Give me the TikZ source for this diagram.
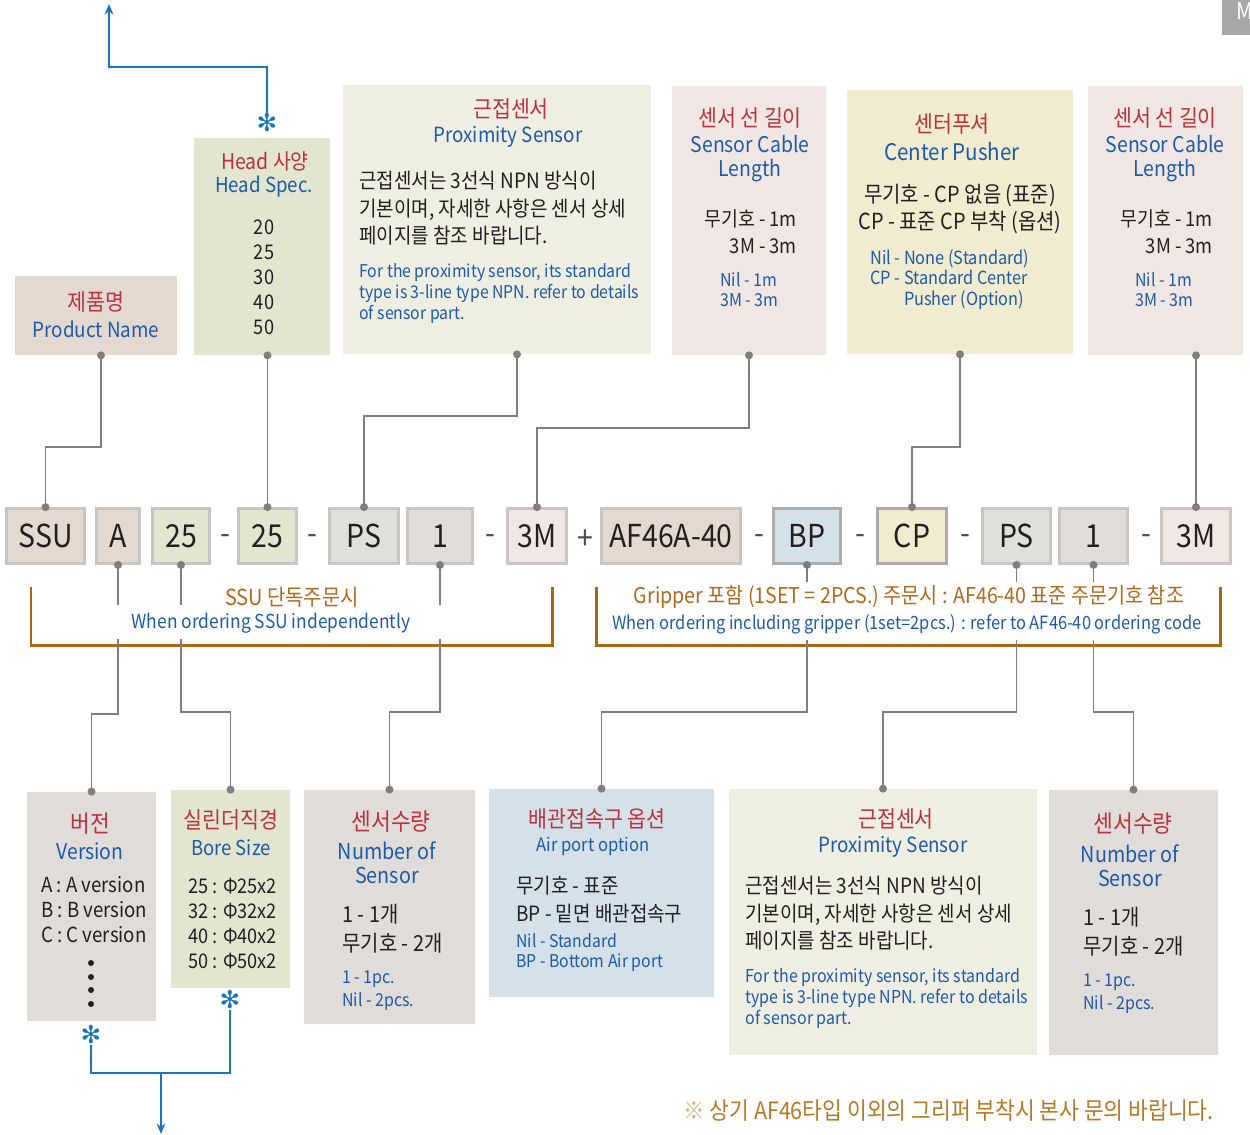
\documentclass[tikz,border=0pt]{standalone}
\usepackage{fontspec}
\setmainfont{Noto Sans CJK KR}[FakeStretch=0.9]
\newfontfamily\symfont{DejaVu Sans}
\usepackage{xcolor}
\usepackage{tikz}
\usetikzlibrary{arrows.meta}
\definecolor{kored}{HTML}{B8323F}
\definecolor{koblue}{HTML}{1F5AA6}
\definecolor{ink}{HTML}{231F20}
\definecolor{connc}{HTML}{7F7F7F}
\definecolor{bracketc}{HTML}{B0660F}
\definecolor{ordc}{HTML}{B06A1C}
\definecolor{notec}{HTML}{B47A28}
\definecolor{arrowc}{HTML}{1B75BC}
\definecolor{tabc}{HTML}{A7A7A9}
\definecolor{cbeige}{HTML}{E3D9D1}
\definecolor{cgreen}{HTML}{E2E6CF}
\definecolor{civory}{HTML}{EFEEE3}
\definecolor{cpink}{HTML}{F0E7E4}
\definecolor{cyellow}{HTML}{F1EBCF}
\definecolor{cgrey}{HTML}{E0DCD9}
\definecolor{cblue}{HTML}{D5E1E9}
\definecolor{cstone}{HTML}{DFE0DB}
\newcommand{\pxu}{0.02cm}
\tikzset{boxsize/.style 2 args={minimum width=#1*\pxu,minimum height=#2*\pxu}}
\tikzstyle{infobox}=[rectangle,inner sep=0pt,draw=none]
\tikzstyle{codebox}=[rectangle,inner sep=0pt,draw=gray!45,line width=1.6pt,text=ink,font=\fontsize{18}{20}\selectfont]
\tikzstyle{sep}=[inner sep=0pt,text=ink!80,font=\fontsize{18}{20}\selectfont]
\tikzstyle{kotitle}=[inner sep=0pt,text=kored,font=\fontsize{13}{14}\selectfont]
\tikzstyle{entitle}=[inner sep=0pt,text=koblue,align=center,font=\fontsize{12.3}{13.3}\selectfont]
\tikzstyle{body}=[inner sep=0pt,text=ink,align=left,anchor=west,font=\fontsize{12}{15.6}\selectfont]
\tikzstyle{listtext}=[inner sep=0pt,text=ink,font=\fontsize{11.5}{14.2}\selectfont]
\tikzstyle{engnote}=[inner sep=0pt,text=koblue,align=left,anchor=west,font=\fontsize{10.1}{12.2}\selectfont]
\tikzstyle{conn}=[draw=connc,line width=0.8pt]
\tikzstyle{dotboth}=[{Circle[length=4.5pt]}-{Circle[length=4.5pt]},shorten <=-2.25pt,shorten >=-2.25pt]
\tikzstyle{dotstart}=[{Circle[length=4.5pt]}-,shorten <=-2.25pt]
\tikzstyle{dotend}=[-{Circle[length=4.5pt]},shorten >=-2.25pt]
\tikzstyle{star}=[inner sep=0pt,text=arrowc,font=\symfont\fontsize{14}{14}\selectfont]
\tikzstyle{blueline}=[draw=arrowc,line width=1.1pt]

\begin{document}
\begin{tikzpicture}[x=0.02cm,y=-0.02cm]
        \useasboundingbox (0,0) rectangle (1250,1135);
        % page tab
        \fill[tabc] (1222,0) rectangle (1250,35);
        \node at (1236,11) [anchor=west,inner sep=0pt,text=white,font=\fontsize{13}{13}\selectfont] (tab) {M};

        % upper boxes
        \node at (96,315.5) [infobox,boxsize={162}{79},fill=cbeige] (prod) {};
        \node at (96,302) [kotitle] (prod-ko) {제품명};
        \node at (96,329) [entitle,font=\fontsize{11.9}{13}\selectfont] (prod-en) {Product Name};

        \node at (262,246.5) [infobox,boxsize={136}{217},fill=cgreen] (head) {};
        \node at (265,161) [kotitle,font=\fontsize{12.3}{13}\selectfont] (head-ko) {Head 사양};
        \node at (264,187) [entitle,font=\fontsize{11.8}{13}\selectfont] (head-en) {Head Spec.};
        \node at (264,277) [listtext,align=center] (head-list) {20\\25\\30\\40\\50};

        \node at (497,219.5) [infobox,boxsize={308}{269},fill=civory] (prox) {};
        \node at (511,109) [kotitle] (prox-ko) {근접센서};
        \node at (508,137) [entitle,font=\fontsize{11.9}{13}\selectfont] (prox-en) {Proximity Sensor};
        \node at (359,208.5) [body] (prox-body) {근접센서는 3선식 NPN 방식이\\기본이며, 자세한 사항은 센서 상세\\페이지를 참조 바랍니다.};
        \node at (359,293.5) [engnote,font=\fontsize{10}{12.2}\selectfont] (prox-note) {For the proximity sensor, its standard\\type is 3-line type NPN. refer to details\\of sensor part.};

        \node at (749,220.5) [infobox,boxsize={154}{269},fill=cpink] (cable) {};
        \node at (750,118) [kotitle] (cable-ko) {센서 선 길이};
        \node at (750,158.5) [entitle] (cable-en) {Sensor Cable\\Length};
        \node at (797,231.5) [listtext,align=right,anchor=east,font=\fontsize{11.6}{15.3}\selectfont] (cable-body) {무기호 - 1m\\3M - 3m};
        \node at (720,290) [engnote,font=\fontsize{10.1}{11.4}\selectfont] (cable-note) {Nil - 1m\\3M - 3m};

        \node at (960,222) [infobox,boxsize={226}{264},fill=cyellow] (pusher) {};
        \node at (952,124) [kotitle] (pusher-ko) {센터푸셔};
        \node at (952,152) [entitle,font=\fontsize{13}{13}\selectfont] (pusher-en) {Center Pusher};
        \node at (960,209) [body,align=center,anchor=center,font=\fontsize{12.6}{15.6}\selectfont] (pusher-body) {무기호 - CP 없음 (표준)\\CP - 표준 CP 부착 (옵션)};
        \node at (870,279.5) [engnote,font=\fontsize{10.3}{11.6}\selectfont] (pusher-note) {Nil - None (Standard)\\CP - Standard Center\\\phantom{CP - }Pusher (Option)};

        \node at (1165.5,220.5) [infobox,boxsize={155}{269},fill=cpink] (cable2) {};
        \node at (1165,118) [kotitle] (cable2-ko) {센서 선 길이};
        \node at (1165,158.5) [entitle] (cable2-en) {Sensor Cable\\Length};
        \node at (1213,231.5) [listtext,align=right,anchor=east,font=\fontsize{11.6}{15.3}\selectfont] (cable2-body) {무기호 - 1m\\3M - 3m};
        \node at (1135,290) [engnote,font=\fontsize{10.1}{11.4}\selectfont] (cable2-note) {Nil - 1m\\3M - 3m};

        % ordering code
        \node at (45.5,536) [codebox,boxsize={78}{55},fill=cbeige] (ssu) {SSU};
        \node at (118,536) [codebox,boxsize={43}{55},fill=cbeige] (a) {A};
        \node at (181,536) [codebox,boxsize={57}{55},fill=cgreen] (bore25) {25};
        \node at (225,540) [sep] (d1) {-};
        \node at (267.5,536) [codebox,boxsize={58}{55},fill=cgreen] (head25) {25};
        \node at (312,540) [sep] (d2) {-};
        \node at (364,536) [codebox,boxsize={69}{55},fill=cstone] (ps) {PS};
        \node at (440,536) [codebox,boxsize={65}{55},fill=cgrey] (n1) {1};
        \node at (490,540) [sep] (d3) {-};
        \node at (537,536) [codebox,boxsize={59}{55},fill=cpink] (m3) {3M};
        \node at (585,540) [sep] (plus) {+};
        \node at (671,536) [codebox,boxsize={139}{55},fill=cbeige] (af) {AF46A-40};
        \node at (759,540) [sep] (d4) {-};
        \node at (807,536) [codebox,boxsize={67}{55},fill=cblue,draw=gray!65] (bp) {BP};
        \node at (860,540) [sep] (d5) {-};
        \node at (912,536) [codebox,boxsize={69}{55},fill=cyellow,draw=gray!65] (cp) {CP};
        \node at (965,540) [sep] (d6) {-};
        \node at (1016.5,536) [codebox,boxsize={68}{55},fill=cstone] (ps2) {PS};
        \node at (1093.5,536) [codebox,boxsize={68}{55},fill=cgrey] (n2) {1};
        \node at (1146,540) [sep] (d7) {-};
        \node at (1196,536) [codebox,boxsize={69}{55},fill=cpink] (m32) {3M};

        % upper connectors
        \draw[conn,dotboth] (prod.south -| 101,0) |- (ssu.north |- 0,447) -- (ssu.north);
        \draw[conn,dotboth] (head.south -| head25.north) -- (head25.north);
        \draw[conn,dotboth] (prox.south -| 517,0) |- (ps.north |- 0,416) -- (ps.north);
        \draw[conn,dotboth] (cable.south) |- (m3.north |- 0,428) -- (m3.north);
        \draw[conn,dotboth] (pusher.south) |- (cp.north |- 0,447) -- (cp.north);
        \draw[conn,dotboth] (cable2.south -| m32.north) -- (m32.north);

        % order brackets
        \draw[bracketc,line width=1.7pt] (31,587) |- (552,645) -- (552,587);
        \draw[bracketc,line width=1.7pt] (596,587) |- (1220,645) -- (1220,587);
        \node at (292,597) [inner sep=0pt,text=ordc,font=\fontsize{12.6}{12}\selectfont] (solo-ko) {SSU 단독주문시};
        \node at (271,623) [inner sep=0pt,text=koblue,font=\fontsize{11}{11}\selectfont] (solo-en) {When ordering SSU independently};
        \node at (909,597) [inner sep=0pt,text=ordc,font=\fontsize{12.4}{12}\selectfont] (set-ko) {Gripper 포함 (1SET = 2PCS.) 주문시 : AF46-40 표준 주문기호 참조};
        \node at (907,624) [inner sep=0pt,text=koblue,font=\fontsize{10.4}{11}\selectfont] (set-en) {When ordering including gripper (1set=2pcs.) : refer to AF46-40 ordering code};

        % lower boxes
        \node at (91.5,906.5) [infobox,boxsize={129}{229},fill=cgrey] (ver) {};
        \node at (90,824) [kotitle,font=\fontsize{13.5}{14}\selectfont] (ver-ko) {버전};
        \node at (90,851) [entitle] (ver-en) {Version};
        \node at (41,910) [listtext,align=left,anchor=west,font=\fontsize{11.8}{14.2}\selectfont] (ver-list) {A : A version\\B : B version\\C : C version};
        \foreach \y in {963,977,990,1004}
          \fill[ink] (91,\y) circle (1.7pt);

        \node at (230.5,889) [infobox,boxsize={119}{198},fill=cgreen] (bore) {};
        \node at (231,820) [kotitle] (bore-ko) {실린더직경};
        \node at (231,848) [entitle,font=\fontsize{11.7}{13}\selectfont] (bore-en) {Bore Size};
        \node at (188,923.5) [listtext,align=left,anchor=west] (bore-list) {25 : Φ25x2\\32 : Φ32x2\\40 : Φ40x2\\50 : Φ50x2};

        \node at (389.5,907) [infobox,boxsize={171}{234},fill=cgrey] (num) {};
        \node at (391,822) [kotitle,font=\fontsize{13.6}{14}\selectfont] (num-ko) {센서수량};
        \node at (387,863) [entitle,font=\fontsize{12.5}{13.6}\selectfont] (num-en) {Number of\\Sensor};
        \node at (342,928.5) [body,font=\fontsize{12.6}{16.4}\selectfont] (num-body) {1 - 1개\\무기호 - 2개};
        \node at (342,990.5) [engnote,font=\fontsize{10.1}{13}\selectfont] (num-note) {1 - 1pc.\\Nil - 2pcs.};

        \node at (601.5,893) [infobox,boxsize={225}{208},fill=cblue] (air) {};
        \node at (597,819) [kotitle] (air-ko) {배관접속구 옵션};
        \node at (593,846) [entitle,font=\fontsize{10.5}{12}\selectfont] (air-en) {Air port option};
        \node at (516,899.5) [body] (air-body) {무기호 - 표준\\BP - 밑면 배관접속구};
        \node at (516,952.5) [engnote,font=\fontsize{10}{11.9}\selectfont] (air-note) {Nil - Standard\\BP - Bottom Air port};

        \node at (883,922) [infobox,boxsize={308}{266},fill=civory] (prox2) {};
        \node at (896,819) [kotitle] (prox2-ko) {근접센서};
        \node at (893,847) [entitle,font=\fontsize{11.9}{13}\selectfont] (prox2-en) {Proximity Sensor};
        \node at (745,913.5) [body] (prox2-body) {근접센서는 3선식 NPN 방식이\\기본이며, 자세한 사항은 센서 상세\\페이지를 참조 바랍니다.};
        \node at (745,998.5) [engnote,font=\fontsize{10.1}{12.2}\selectfont] (prox2-note) {For the proximity sensor, its standard\\type is 3-line type NPN. refer to details\\of sensor part.};

        \node at (1133.5,922.5) [infobox,boxsize={169}{265},fill=cgrey] (num2) {};
        \node at (1133,824) [kotitle,font=\fontsize{13.6}{14}\selectfont] (num2-ko) {센서수량};
        \node at (1130,866) [entitle,font=\fontsize{12.5}{13.6}\selectfont] (num2-en) {Number of\\Sensor};
        \node at (1083,932) [body,font=\fontsize{12.6}{16.4}\selectfont] (num2-body) {1 - 1개\\무기호 - 2개};
        \node at (1083,993.5) [engnote,font=\fontsize{10.1}{13}\selectfont] (num2-note) {1 - 1pc.\\Nil - 2pcs.};

        % lower connectors
        \draw[conn,dotstart] (a.south) -- (a.south |- 0,605);
        \draw[conn,dotend] (a.south |- 0,639) |- (ver.north |- 0,714) -- (ver.north);
        \draw[conn,dotstart] (bore25.south) -- (bore25.south |- 0,605);
        \draw[conn,dotend] (bore25.south |- 0,639) |- (bore.north |- 0,712) -- (bore.north);
        \draw[conn,dotstart] (n1.south) -- (n1.south |- 0,605);
        \draw[conn,dotend] (n1.south |- 0,639) |- (num.north |- 0,712) -- (num.north);
        \draw[conn,dotstart] (bp.south) -- (bp.south |- 0,582);
        \draw[conn,dotend] (bp.south |- 0,640) |- (air.north |- 0,712) -- (air.north);
        \draw[conn,dotstart] (ps2.south) -- (ps2.south |- 0,582);
        \draw[conn,dotend] (ps2.south |- 0,640) |- (prox2.north |- 0,712) -- (prox2.north);
        \draw[conn,dotstart] (n2.south) -- (n2.south |- 0,582);
        \draw[conn,dotend] (n2.south |- 0,640) |- (num2.north |- 0,712) -- (num2.north);

        % references
        \node at (267,123) [star] (headstar) {✻};
        \coordinate (up) at (109,4);
        \draw[blueline,-{Stealth[length=6pt,width=5pt]}] (headstar.north) |- (up |- 0,67) -- (up);
        \node at (91,1035) [star] (verstar) {✻};
        \node at (230,1000) [star] (borestar) {✻};
        \draw[blueline] (verstar.south) |- (borestar.south |- 0,1073) -- (borestar.south);
        \coordinate (split) at (161,1073);
        \coordinate (down) at (161,1134);
        \draw[blueline,-{Stealth[length=6pt,width=5pt]}] (split) -- (down);

        % note
        \node at (683,1111) [anchor=west,inner sep=0pt,text=notec,font=\fontsize{13.6}{14}\selectfont] (note) {{\color{notec!60}※} 상기 AF46타입 이외의 그리퍼 부착시 본사 문의 바랍니다.};
      \end{tikzpicture}
\end{document}
